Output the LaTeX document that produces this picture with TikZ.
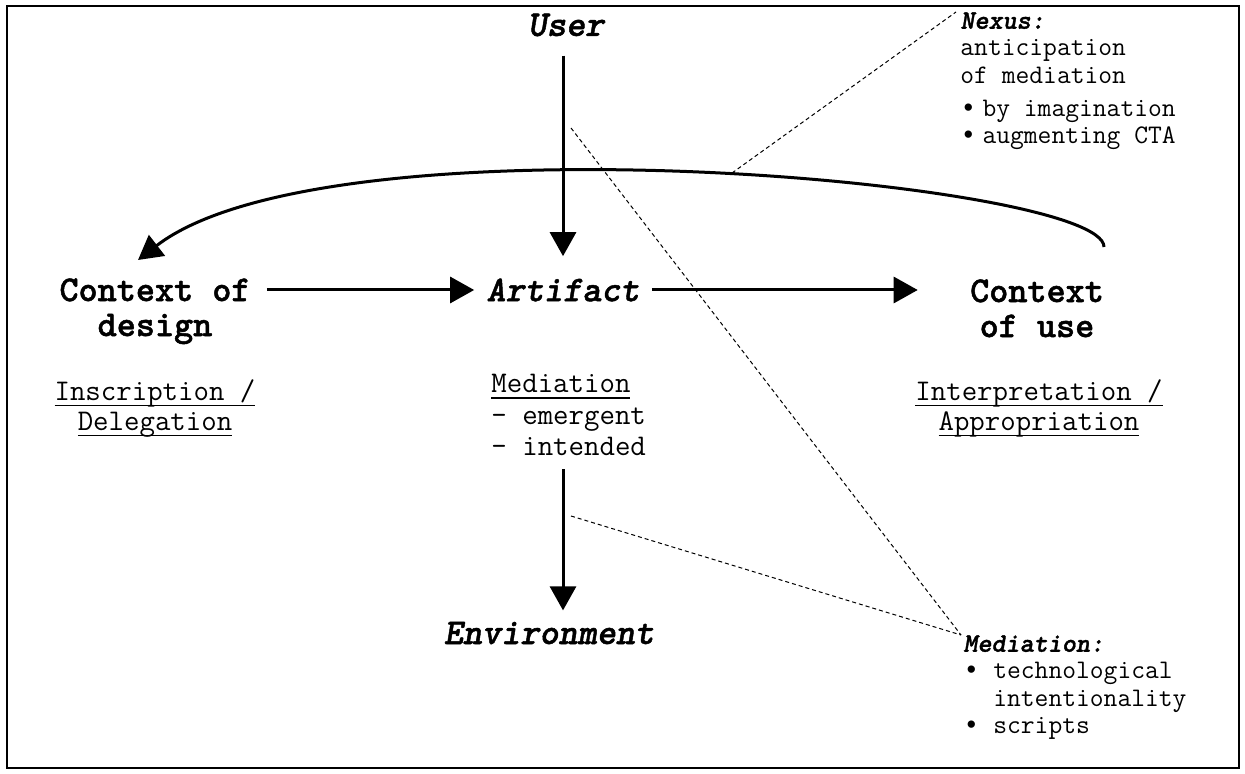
\documentclass[tikz,border=0pt]{standalone}
\usepackage{fontspec}
\newfontfamily\bulfont{Liberation Mono}
\newfontfamily\lmbf{lmmonolt10-bold}[Extension=.otf, FakeBold=1.3]
\newfontfamily\lmbfit{lmmonolt10-boldoblique}[Extension=.otf, FakeBold=1.3]
\usetikzlibrary{arrows.meta}
\newcommand\ulx[1]{\setbox0\hbox{#1}\rlap{\rule[-3pt]{\wd0}{0.7pt}}\box0}
\newcommand\bul{{\bulfont •}}
\tikzset{
  big/.style={font=\lmbf\fontsize{18.2}{17.5}\selectfont, inner sep=0pt, align=center},
  bigit/.style={font=\lmbfit\fontsize{18.2}{17.5}\selectfont, inner sep=0pt, align=center},
  mid/.style={font=\ttfamily\fontsize{15}{15}\selectfont, inner sep=0pt},
  small/.style={font=\ttfamily\fontsize{13.4}{13.6}\selectfont, inner sep=0pt, align=left},
  arr/.style={line width=1.5pt, -{Triangle[length=12pt,width=13pt]}},
  dashline/.style={line width=0.5pt, dash pattern=on 2pt off 1.5pt},
}
\begin{document}
\begin{tikzpicture}[x=0.5pt,y=-0.5pt]
\useasboundingbox (0,0) rectangle (1245,774);
\draw[line width=1.4pt] (7,6) rectangle (1239,768);
% main nodes
\node[bigit] (user) at (566,25) {User};
\node[bigit] (art) at (563,290) {Artifact};
\node[big, anchor=north] (cdes) at (155,278) {Context of\\design};
\node[big, anchor=north] (cuse) at (1037,279) {Context\\of use};
\node[bigit] (env) at (549,633) {Environment};
% sub labels
\node[mid, align=center, anchor=north] (insc) at (155,379) {\ulx{Inscription /}\\\ulx{Delegation}};
\node[mid, align=center, anchor=north] (interp) at (1039,379) {\ulx{Interpretation /}\\\ulx{Appropriation}};
\node[mid, align=left, anchor=north west, font=\ttfamily\fontsize{15}{15.7}\selectfont] (med) at (491,374) {\ulx{Mediation}\\- emergent\\- intended};
% annotation nodes
\node[small, anchor=north west] (nexus) at (960,12) {{\lmbfit Nexus:}\\anticipation\\of mediation\\[3pt]\bul\hspace{3pt}by imagination\\\bul\hspace{3pt}augmenting CTA};
\node[small, anchor=north west] (medn) at (963,635) {{\lmbfit Mediation:}\\\bul\ technological\\\phantom{\bul\ }intentionality\\\bul\ scripts};
% coordinates
\coordinate (cstart) at (1104,247);
\coordinate (cend) at (138,260);
\coordinate (arcpt) at (732,173);
\coordinate (d1) at (571,128);
\coordinate (d2) at (571,516);
% arrows
\draw[arr, shorten <=9.5pt, shorten >=11pt] (art.north |- user.south) -- (art.north);
\draw[arr, shorten <=6.5pt, shorten >=5.5pt] (art.center |- med.south) -- (art.center |- env.north);
\draw[arr, shorten <=8pt, shorten >=6pt] (cdes.east |- art) -- (art.west);
\draw[arr, shorten <=6pt, shorten >=26pt] (art.east) -- (cuse.west |- art);
\draw[arr] (cstart) .. controls (1104,182) and (330,112) .. (cend);
% dashed leaders
\draw[dashline] (arcpt) -- ([xshift=-2pt]nexus.north west);
\draw[dashline] (d1) -- ([xshift=-1pt]medn.north west);
\draw[dashline] (d2) -- ([xshift=-1pt]medn.north west);
\end{tikzpicture}
\end{document}
